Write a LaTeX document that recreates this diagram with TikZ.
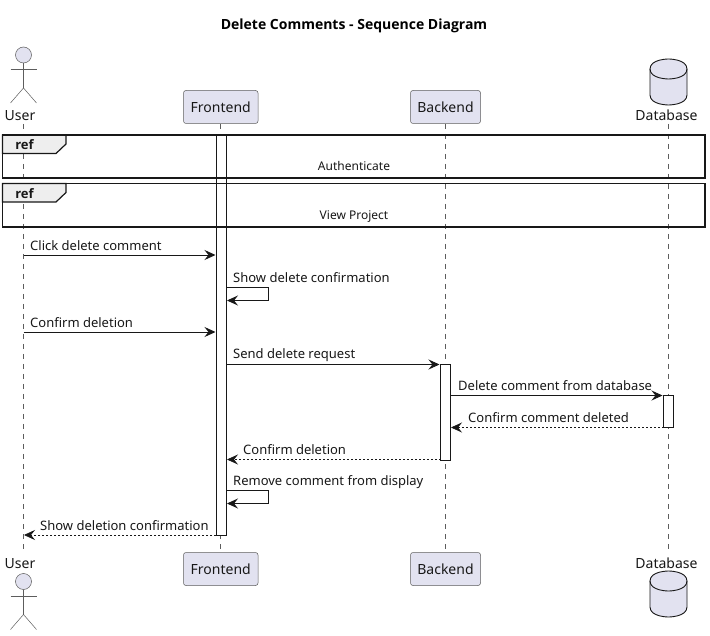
\documentclass[tikz,border=0pt]{standalone}
\usepackage{fontspec}
\setmainfont{Noto Sans}
\newfontfamily\heavyfont{Open Sans}
\usetikzlibrary{arrows.meta}
\usetikzlibrary{positioning}

\definecolor{partfill}{HTML}{E2E2F0}
\definecolor{partline}{HTML}{181818}
\definecolor{tabfill}{HTML}{EEEEEE}

\newcommand{\stickman}[2]{
\draw[actorline, fill=partfill] (#1,#2) circle (8);
\draw[actorline] (#1,#2+8) -- (#1,#2+33);
\draw[actorline] (#1-13,#2+14.5) -- (#1+13,#2+14.5);
\draw[actorline] (#1-13,#2+48) -- (#1,#2+33) -- (#1+13,#2+48);
}
\newcommand{\dbcan}[2]{
\draw[canline] (#1,#2+10) .. controls (#1,#2) and (#1+18.5,#2) .. (#1+18.5,#2) .. controls (#1+18.5,#2) and (#1+37,#2) .. (#1+37,#2+10) -- (#1+37,#2+36) .. controls (#1+37,#2+46) and (#1+18.5,#2+46) .. (#1+18.5,#2+46) .. controls (#1+18.5,#2+46) and (#1,#2+46) .. (#1,#2+36) -- cycle;
\draw[canline, fill=none] (#1,#2+10) .. controls (#1,#2+20) and (#1+18.5,#2+20) .. (#1+18.5,#2+20) .. controls (#1+18.5,#2+20) and (#1+37,#2+20) .. (#1+37,#2+10);
}

\begin{document}
\begin{tikzpicture}[
x=1pt, y=-1pt,
actorline/.style={draw=partline!70, line width=0.5pt},
canline/.style={draw=partline, line width=0.9pt, fill=partfill},
partnode/.style={rectangle, rounded corners=2.5pt, draw=partline!70, line width=0.5pt, fill=partfill, minimum height=33pt, inner sep=0pt, text height=11.2pt, text depth=0pt, font=\fontsize{14}{16}\selectfont, text=partline},
namenode/.style={inner sep=0pt, font=\fontsize{14}{16}\selectfont, text=partline},
barnode/.style={rectangle, draw=partline, line width=0.9pt, fill=white, minimum width=10pt, inner sep=0pt, anchor=north},
msgnode/.style={inner sep=0pt, anchor=base west, font=\fontsize{13}{15}\selectfont, text=partline},
refnode/.style={inner sep=0pt, anchor=base, font=\fontsize{12}{14}\selectfont, text=partline},
tabnode/.style={inner sep=0pt, anchor=base, font=\heavyfont\bfseries\fontsize{13}{15}\selectfont, text=partline},
lifeline/.style={draw=partline!70, line width=0.5pt, dash pattern=on 5pt off 5pt},
callline/.style={draw=partline, line width=0.9pt, -{Stealth[length=11pt, width=10pt, inset=4pt]}},
replyline/.style={draw=partline, line width=0.7pt, dash pattern=on 2pt off 2pt, -{Stealth[length=11pt, width=10pt, inset=4pt]}},
frameline/.style={draw=partline, line width=1.2pt},
]
\useasboundingbox (0,0) rectangle (710,636);
\fill[white] (0,0) rectangle (710,636);

% Title
\node[inner sep=0pt, font=\heavyfont\bfseries\fontsize{14}{16}\selectfont, text=black] (title) at (354,26) {Delete Comments - Sequence Diagram};

% Participant nodes
\node[namenode]  (usertop)     at (20,115.5)  {User};
\node[partnode, minimum width=74.5pt] (frontendtop) at (220.75,107) {Frontend};
\node[partnode, minimum width=70pt]   (backendtop)  at (445.5,107)  {Backend};
\node[namenode]  (databasetop) at (666.5,115.5) {Database};
\node[namenode]  (userbot)     at (20,563.5)  {User};
\node[partnode, minimum width=74.5pt] (frontendbot) at (220.75,569) {Frontend};
\node[partnode, minimum width=70pt]   (backendbot)  at (445.5,569)  {Backend};
\node[namenode]  (databasebot) at (666.5,563.5) {Database};

% Lifeline ends
\coordinate (usera) at (23.5,124);
\coordinate (userb) at (23.5,552);
\coordinate (frontenda) at (220.5,124);
\coordinate (frontendb) at (220.5,552);
\coordinate (backenda) at (445.5,124);
\coordinate (backendb) at (445.5,552);
\coordinate (databasea) at (668.5,124);
\coordinate (databaseb) at (668.5,552);

% Lifelines
\draw[lifeline] (usera) -- (userb);
\draw[lifeline] (frontenda) -- (frontendb);
\draw[lifeline] (backenda) -- (backendb);
\draw[lifeline] (databasea) -- (databaseb);

% Actors and databases
\stickman{23.5}{55}
\stickman{23.5}{581.5}
\dbcan{650}{59}
\dbcan{650}{571}

% Activation bars
\node[barnode, minimum height=400pt] (frontendbar) at (221,135)   {};
\node[barnode, minimum height=95pt]  (backendbar)  at (445.5,364.5) {};
\node[barnode, minimum height=32pt]  (databasebar) at (668.5,395.5) {};

% Ref frames
\draw[frameline, fill=tabfill] (2.5,135) -- (66,135) -- (66,144) -- (56,153.5) -- (2.5,153.5) -- cycle;
\draw[frameline] (2.5,135) rectangle (705,178);
\node[tabnode]  (refa)      at (24.5,150)  {ref};
\node[refnode]  (authtext)  at (354,170.5) {Authenticate};
\draw[frameline, fill=tabfill] (2.5,183.5) -- (66,183.5) -- (66,192.5) -- (56,202) -- (2.5,202) -- cycle;
\draw[frameline] (2.5,183.5) rectangle (705,227);
\node[tabnode]  (refb)      at (24.5,199)  {ref};
\node[refnode]  (viewtext)  at (354,219.5) {View Project};

% Message ends
\coordinate (clickstart) at (23.5,255);
\coordinate (clickend) at (215.5,255);
\coordinate (popupstart) at (226,287.5);
\coordinate (popupend) at (227,300.5);
\coordinate (confirmstart) at (23.5,332);
\coordinate (confirmend) at (215.5,332);
\coordinate (sendstart) at (226,364.5);
\coordinate (sendend) at (439.5,364.5);
\coordinate (deletestart) at (450.5,395.5);
\coordinate (deleteend) at (662.5,395.5);
\coordinate (deletedstart) at (663.5,427.5);
\coordinate (deletedend) at (451,427.5);
\coordinate (replystart) at (440.5,459.5);
\coordinate (replyend) at (227,459.5);
\coordinate (removestart) at (226,490.5);
\coordinate (removeend) at (227,503.5);
\coordinate (showstart) at (216,535);
\coordinate (showend) at (24,535);

% Messages
\draw[callline] (clickstart) -- (clickend);
\draw[callline] (popupstart) -- ++(42.5,0) |- (popupend);
\draw[callline] (confirmstart) -- (confirmend);
\draw[callline] (sendstart) -- (sendend);
\draw[callline] (deletestart) -- (deleteend);
\draw[replyline] (deletedstart) -- (deletedend);
\draw[replyline] (replystart) -- (replyend);
\draw[callline] (removestart) -- ++(42.5,0) |- (removeend);
\draw[replyline] (showstart) -- (showend);

% Message labels
\node[msgnode] (clicktext)   at (30,250.5)  {Click delete comment};
\node[msgnode] (popuptext)   at (233,282.5) {Show delete confirmation};
\node[msgnode] (confirmtext) at (30,327.5)  {Confirm deletion};
\node[msgnode] (sendtext)    at (233,358.5) {Send delete request};
\node[msgnode] (deletetext)  at (458,390.5) {Delete comment from database};
\node[msgnode] (deletedtext) at (468,422.5) {Confirm comment deleted};
\node[msgnode] (replytext)   at (243,454.5) {Confirm deletion};
\node[msgnode] (removetext)  at (233,485.5) {Remove comment from display};
\node[msgnode] (showtext)    at (40,530.5)  {Show deletion confirmation};
\end{tikzpicture}
\end{document}
